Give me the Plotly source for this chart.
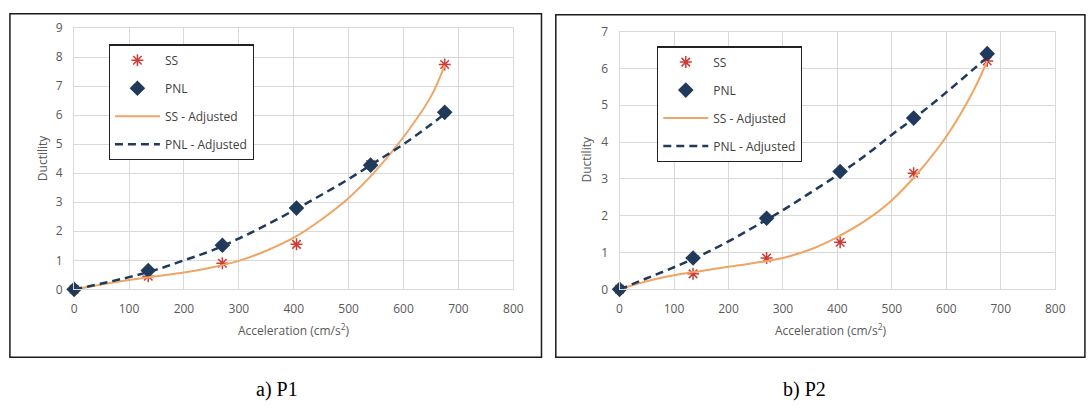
import plotly.graph_objects as go

# ---------------- data ----------------
accel = [0, 135, 270, 405, 540, 675]

p1_ss = [0, 0.45, 0.9, 1.55, 4.3, 7.75]
p1_pnl = [0, 0.65, 1.52, 2.8, 4.28, 6.1]

p2_ss = [0, 0.42, 0.85, 1.28, 3.15, 6.2]
p2_pnl = [0, 0.85, 1.93, 3.2, 4.65, 6.4]

fit_x = [0, 50, 100, 150, 200, 250, 300, 350, 400, 450, 500, 550, 600, 650, 675]
p1_ss_fit = [0, 0.17, 0.32, 0.45, 0.58, 0.75, 0.98, 1.33, 1.78, 2.4, 3.15, 4.1, 5.25, 6.65, 7.72]
p1_pnl_fit = [0, 0.2, 0.42, 0.68, 1.0, 1.33, 1.75, 2.22, 2.72, 3.25, 3.8, 4.4, 5.0, 5.68, 6.05]
p2_ss_fit = [0, 0.22, 0.38, 0.5, 0.61, 0.72, 0.85, 1.08, 1.42, 1.85, 2.42, 3.2, 4.15, 5.4, 6.2]
p2_pnl_fit = [0, 0.3, 0.6, 0.93, 1.3, 1.72, 2.15, 2.62, 3.1, 3.62, 4.2, 4.75, 5.35, 5.98, 6.3]

x_ticks = [0, 100, 200, 300, 400, 500, 600, 700, 800]

# ---------------- style ----------------
W, H = 1088, 415
RED = "#cf3b35"
NAVY = "#203a5c"
ORANGE = "#efa565"
GRID = "#d9d9d9"
TXT = "#595959"
FONT = "Open Sans"


def px_x(v):
    return v / W


def px_y(v):
    return 1 - v / H


fig = go.Figure()


def add_panel(xa, ya, ss, pnl, ss_fit, pnl_fit, legend):
    fig.add_trace(go.Scatter(
        x=accel, y=ss, mode="markers", name="SS", xaxis=xa, yaxis=ya, legend=legend,
        legendgroup=legend + "a", cliponaxis=False,
        marker=dict(symbol="asterisk-open", size=10, color=RED, line=dict(color=RED, width=1.5))))
    fig.add_trace(go.Scatter(
        x=accel, y=pnl, mode="markers", name="PNL", xaxis=xa, yaxis=ya, legend=legend,
        legendgroup=legend + "b", cliponaxis=False,
        marker=dict(symbol="diamond", size=12, color=NAVY)))
    fig.add_trace(go.Scatter(
        x=fit_x, y=ss_fit, mode="lines", name="SS - Adjusted", xaxis=xa, yaxis=ya, legend=legend,
        legendgroup=legend + "c", cliponaxis=False,
        line=dict(color=ORANGE, width=2, shape="spline")))
    fig.add_trace(go.Scatter(
        x=fit_x, y=pnl_fit, mode="lines", name="PNL - Adjusted", xaxis=xa, yaxis=ya, legend=legend,
        legendgroup=legend + "d", cliponaxis=False,
        line=dict(color=NAVY, width=2.5, dash="8px,5px", shape="spline")))


add_panel("x", "y", p1_ss, p1_pnl, p1_ss_fit, p1_pnl_fit, "legend")
add_panel("x2", "y2", p2_ss, p2_pnl, p2_ss_fit, p2_pnl_fit, "legend2")

axis_common = dict(
    showgrid=True, gridcolor=GRID, gridwidth=1, zeroline=False,
    showline=True, linecolor=GRID, linewidth=1, mirror=True,
    ticks="", ticklabelstandoff=8,
    tickfont=dict(family=FONT, size=12, color=TXT),
    fixedrange=True,
)

fig.update_layout(
    width=W, height=H, autosize=False,
    margin=dict(l=0, r=0, t=0, b=0),
    paper_bgcolor="white", plot_bgcolor="white",
    showlegend=True,
    xaxis=dict(domain=[px_x(72), px_x(516.5)], range=[0, 800], tickvals=x_ticks, anchor="y", **axis_common),
    yaxis=dict(domain=[px_y(292.3), px_y(20)], range=[0, 9], dtick=1, anchor="x", **axis_common),
    xaxis2=dict(domain=[px_x(624), px_x(1065)], range=[0, 800], tickvals=x_ticks, anchor="y2", **axis_common),
    yaxis2=dict(domain=[px_y(292.3), px_y(23.5)], range=[0, 7], dtick=1, anchor="x2", **axis_common),
    legend=dict(
        x=px_x(107), y=px_y(37), xanchor="left", yanchor="top",
        bgcolor="white", bordercolor="#222222", borderwidth=1.2,
        font=dict(family=FONT, size=12, color="#404040"),
        tracegroupgap=9, itemwidth=45, traceorder="grouped"),
    legend2=dict(
        x=px_x(662), y=px_y(39), xanchor="left", yanchor="top",
        bgcolor="white", bordercolor="#222222", borderwidth=1.2,
        font=dict(family=FONT, size=12, color="#404040"),
        tracegroupgap=9, itemwidth=45, traceorder="grouped"),
)

# frames around the two panels
fig.add_shape(type="rect", xref="paper", yref="paper",
              x0=px_x(7), x1=px_x(545), y0=px_y(363), y1=px_y(5),
              line=dict(color="#1a1a1a", width=1.5), layer="below")
fig.add_shape(type="rect", xref="paper", yref="paper",
              x0=px_x(559.5), x1=px_x(1095), y0=px_y(363), y1=px_y(6),
              line=dict(color="#1a1a1a", width=1.5), layer="below")

ann_font = dict(family=FONT, size=12, color=TXT)
annotations = [
    dict(text="Acceleration (cm/s<sup>2</sup>)", x=px_x(294), y=px_y(335), font=ann_font),
    dict(text="Acceleration (cm/s<sup>2</sup>)", x=px_x(838), y=px_y(335), font=ann_font),
    dict(text="Ductility", x=px_x(40), y=px_y(156), textangle=-90, font=ann_font),
    dict(text="Ductility", x=px_x(591), y=px_y(157), textangle=-90, font=ann_font),
    dict(text="a) P1", x=px_x(277), y=px_y(397),
         font=dict(family="Liberation Serif", size=20, color="black")),
    dict(text="b) P2", x=px_x(811), y=px_y(397),
         font=dict(family="Liberation Serif", size=20, color="black")),
]
for a in annotations:
    fig.add_annotation(xref="paper", yref="paper", showarrow=False,
                       xanchor="center", yanchor="middle", **a)

fig.write_html("out.html", config={"displayModeBar": False})
